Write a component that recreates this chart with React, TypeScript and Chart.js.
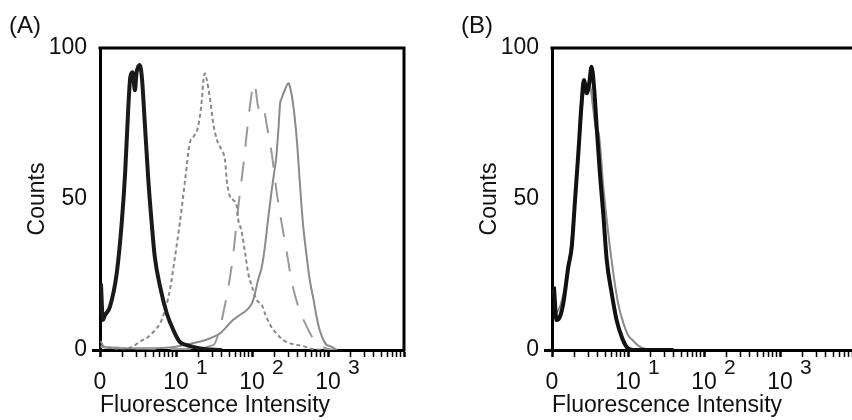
import React, { useEffect, useRef } from "react";
import { Chart, registerables } from "chart.js";

Chart.register(...registerables);

const FONT = "'Liberation Sans', Arial, Helvetica, sans-serif";

// ---- axis text ----
const xMajorValues = [1, 10, 100, 1000, 10000];
const xMajorLabels = ["0", "10", "10", "10", ""];
const xMajorExponents = ["", "1", "2", "3", ""];
const yTickValues = [0, 50, 100];
const xTitle = "Fluorescence Intensity";
const yTitle = "Counts";

// ---- Panel A ----
const aBlackX = [1.03, 1.09, 1.16, 1.35, 1.66, 1.93, 2.14, 2.36, 2.51, 2.69, 2.88, 3.02, 3.31, 3.55, 3.89, 4.33, 4.79, 5.25, 6.17, 7.59, 9.23, 11.2, 13.8, 20.9, 40];
const aBlackY = [22, 10, 11.5, 14.3, 25.4, 42, 58.5, 80.6, 90.5, 92, 86, 91.6, 94.4, 90.5, 75, 56, 42, 31, 21, 12, 6.6, 2.7, 1.6, 0.5, 0];

const aDottedX = [1.02, 1.585, 2.512, 3.357, 4.325, 5.297, 6.166, 7.161, 8.318, 9.705, 11.22, 13.18, 15.14, 16.98, 19.5, 21.88, 22.91, 23.99, 25.12, 28.18, 30.9, 34.67, 39.81, 44.16, 46.45, 51.29, 56.23, 63.1, 66.07, 72.44, 81.28, 89.13, 100, 114.8, 134.9, 147.9, 173.8, 208.9, 257, 316.2, 389, 467.7, 631, 1000];
const aDottedY = [1.5, 0.5, 0.8, 2.8, 4.4, 6.6, 8.8, 13.2, 19.9, 30.9, 42, 56.3, 68.4, 70.6, 73.9, 82.8, 89.4, 91.6, 90, 82.8, 75, 69.5, 66.2, 62.9, 56.3, 50.8, 49.7, 47.5, 43, 39.7, 32, 25.4, 21, 16.6, 14.9, 12.1, 8.3, 5.5, 3.3, 2.2, 1.7, 1.3, 0.3, 0];

const aDashedX = [1.02, 10, 30.9, 36.3, 41.7, 49, 56.2, 66.1, 77.6, 89.1, 102.3, 107.2, 120.2, 128.8, 138, 144.5, 154.9, 182, 208.9, 245.5, 288.4, 331.1, 407.4, 501.2, 616.6, 776.2, 955, 1200];
const aDashedY = [1, 0.3, 1.6, 5.5, 12, 21, 31, 47.5, 62, 76, 87, 88.3, 80.6, 79, 77.5, 79, 75, 65, 53, 42, 32, 23, 14.3, 8.8, 4.4, 1.6, 0.5, 0];

const aSolidX = [1.02, 1.15, 3, 8, 15.14, 20.9, 28.2, 38, 56.2, 69.2, 85.1, 100, 109.6, 120.2, 134.9, 147.9, 162.2, 182, 195, 208.9, 223.9, 234.4, 245.5, 269.2, 302, 316.2, 346.7, 389, 426.6, 467.7, 524.8, 575.4, 645.7, 707.9, 776.2, 871, 955, 1072, 1300];
const aSolidY = [3, 0.8, 0.5, 0.8, 2, 2.8, 3.9, 5.5, 9.9, 11.6, 13.2, 15.5, 18.8, 23.2, 27.6, 34.2, 43, 53, 58.5, 64, 74, 81.7, 83.3, 86, 88.3, 87.2, 81.7, 69.5, 55.2, 42, 30.9, 23.2, 16.6, 11, 6.6, 3.3, 1.7, 1.3, 0];

// ---- Panel B ----
const bBlackX = [1.06, 1.15, 1.27, 1.41, 1.64, 1.82, 2.01, 2.22, 2.45, 2.63, 2.86, 3.09, 3.31, 3.57, 3.87, 4.27, 4.73, 5.25, 6.1, 7.08, 8.26, 9.55, 11.75, 40];
const bBlackY = [21, 9.9, 11, 15.5, 27.6, 34.2, 49.7, 65.1, 81.7, 89.4, 85, 88.3, 93.8, 87.2, 73.9, 58.5, 45, 29.8, 18.8, 9.9, 4.4, 1.1, 0, 0];

const bGreyX = [1.04, 1.12, 1.27, 1.48, 1.73, 2.01, 2.29, 2.57, 2.86, 3.16, 3.5, 3.8, 4.07, 4.73, 5.5, 6.41, 7.41, 8.71, 10, 11.75, 13.6, 15.8, 20, 40];
const bGreyY = [20, 12.4, 14.3, 21, 32, 49.7, 68.4, 84, 88.3, 87.7, 79.5, 72.8, 72.3, 54, 38.6, 25.4, 15.5, 8.8, 5, 3, 1.5, 0.6, 0.1, 0];

type Series = {
  xs: number[];
  ys: number[];
  color: string;
  width: number;
  dash: number[];
};

const panelASeries: Series[] = [
  { xs: aBlackX, ys: aBlackY, color: "#1a1a1a", width: 4, dash: [] },
  { xs: aDottedX, ys: aDottedY, color: "#888888", width: 2, dash: [4, 3] },
  { xs: aDashedX, ys: aDashedY, color: "#999999", width: 2, dash: [20, 15] },
  { xs: aSolidX, ys: aSolidY, color: "#8a8a8a", width: 2, dash: [] },
];

const panelBSeries: Series[] = [
  { xs: bBlackX, ys: bBlackY, color: "#111111", width: 4, dash: [] },
  { xs: bGreyX, ys: bGreyY, color: "#8a8a8a", width: 2, dash: [] },
];

function Panel({ label, series, left }: { label: string; series: Series[]; left: number }) {
  const ref = useRef<HTMLCanvasElement | null>(null);

  useEffect(() => {
    if (!ref.current) return;
    const decorations = {
      id: "decorations",
      afterDraw(chart: any) {
        const { ctx, chartArea } = chart;
        const xs = chart.scales.x;
        ctx.save();
        ctx.strokeStyle = "#000";
        ctx.lineWidth = 3;
        ctx.lineCap = "square";
        ctx.beginPath();
        ctx.moveTo(chartArea.left, chartArea.top);
        ctx.lineTo(chartArea.right, chartArea.top);
        ctx.lineTo(chartArea.right, chartArea.bottom);
        ctx.stroke();
        ctx.fillStyle = "#111";
        ctx.font = `21px ${FONT}`;
        ctx.textAlign = "left";
        ctx.textBaseline = "middle";
        xMajorValues.forEach((v, i) => {
          const e = xMajorExponents[i];
          if (e) ctx.fillText(e, xs.getPixelForValue(v) + 20, chartArea.bottom + 18);
        });
        ctx.font = `24px ${FONT}`;
        ctx.textBaseline = "alphabetic";
        ctx.fillText(label, 9, 33);
        ctx.restore();
      },
    };

    const chart = new Chart(ref.current, {
      type: "line",
      data: {
        datasets: series.map((s) => ({
          data: s.xs.map((x, i) => ({ x, y: s.ys[i] })),
          borderColor: s.color,
          borderWidth: s.width,
          borderDash: s.dash,
          fill: false,
          pointRadius: 0,
          cubicInterpolationMode: "monotone" as const,
        })),
      },
      options: {
        responsive: false,
        animation: false,
        events: [],
        layout: { padding: { top: 48, right: 48, bottom: 0, left: 0 } },
        plugins: {
          legend: { display: false },
          tooltip: { enabled: false },
        },
        scales: {
          x: {
            type: "logarithmic",
            min: 1,
            max: 10000,
            afterFit: (s: any) => {
              s.height = 70;
            },
            afterBuildTicks: (s: any) => {
              const t: any[] = [];
              for (let d = 0; d < 4; d++) {
                for (let k = 1; k < 10; k++) t.push({ value: k * Math.pow(10, d), major: k === 1 });
              }
              t.push({ value: 10000, major: true });
              s.ticks = t;
            },
            ticks: {
              autoSkip: false,
              maxRotation: 0,
              minRotation: 0,
              padding: 12,
              color: "#111",
              font: { family: FONT, size: 23 },
              callback: (value: any) => {
                const i = xMajorValues.indexOf(Number(value));
                return i >= 0 ? xMajorLabels[i] : "";
              },
            },
            grid: {
              drawOnChartArea: false,
              drawTicks: true,
              tickLength: 7,
              tickColor: "#000",
              tickWidth: (c: any) => (c.tick && c.tick.major ? 2.5 : 1.5),
            },
            border: { display: true, color: "#000", width: 3 },
            title: {
              display: true,
              text: xTitle,
              align: "start",
              color: "#111",
              font: { family: FONT, size: 23 },
              padding: { top: 0, bottom: 1 },
            },
          },
          y: {
            type: "linear",
            min: 0,
            max: 100,
            afterFit: (s: any) => {
              s.width = 100;
            },
            afterBuildTicks: (s: any) => {
              s.ticks = yTickValues.map((v) => ({ value: v }));
            },
            ticks: {
              padding: 5,
              color: "#111",
              font: { family: FONT, size: 23 },
            },
            grid: {
              drawOnChartArea: false,
              drawTicks: true,
              tickLength: 8,
              tickWidth: 3,
              tickColor: (c: any) => (c.tick && c.tick.value === 0 ? "#000" : "rgba(0,0,0,0)"),
            },
            border: { display: true, color: "#000", width: 3 },
            title: {
              display: true,
              text: yTitle,
              color: "#111",
              font: { family: FONT, size: 23 },
              padding: { top: 24, bottom: 0 },
            },
          },
        },
      },
      plugins: [decorations],
    } as any);
    return () => chart.destroy();
  }, [label, series]);

  return (
    <div style={{ position: "absolute", left, top: 0, width: 452, height: 420 }}>
      <canvas ref={ref} width={452} height={420} style={{ display: "block", width: 452, height: 420 }} />
    </div>
  );
}

export default function App() {
  return (
    <div
      style={{
        position: "fixed",
        left: 0,
        top: 0,
        width: 852,
        height: 420,
        overflow: "hidden",
        background: "#fff",
      }}
    >
      <Panel label="(A)" series={panelASeries} left={0} />
      <Panel label="(B)" series={panelBSeries} left={452} />
    </div>
  );
}
